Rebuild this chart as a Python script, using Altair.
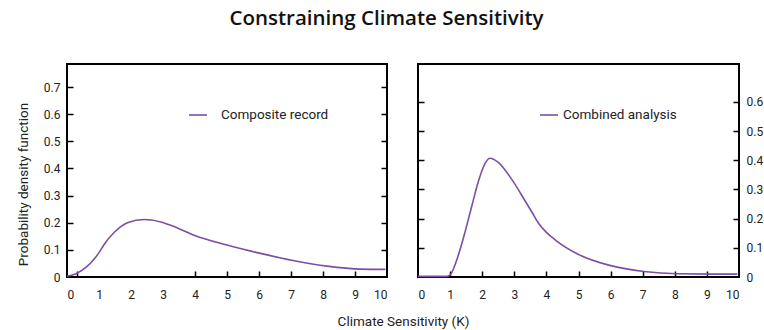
import altair as alt
import pandas as pd

# Composite record (left panel)
comp_x = [0.0, 0.3, 0.6, 0.85, 1.0, 1.16, 1.48, 1.89, 2.41, 2.93, 3.45, 3.97, 5.0, 6.05, 7.1, 8.13, 9.17, 9.95]
comp_y = [0.003, 0.013, 0.036, 0.066, 0.09, 0.12, 0.165, 0.2, 0.212, 0.203, 0.181, 0.154, 0.118, 0.087, 0.06, 0.04, 0.029, 0.028]

# Combined analysis (right panel)
comb_x = [0.0, 0.9, 1.0, 1.26, 1.47, 1.67, 1.88, 2.04, 2.24, 2.5, 2.9, 3.32, 3.55, 3.75, 4.0, 4.3, 4.97, 6.0, 7.04, 8.07, 9.1, 9.95]
comb_y = [0.002, 0.002, 0.007, 0.076, 0.156, 0.241, 0.327, 0.378, 0.407, 0.393, 0.338, 0.264, 0.222, 0.185, 0.153, 0.125, 0.079, 0.039, 0.019, 0.011, 0.01, 0.01]

left_yticks = [0, 0.1, 0.2, 0.3, 0.4, 0.5, 0.6, 0.7]
right_yticks = [0, 0.1, 0.2, 0.3, 0.4, 0.5, 0.6]
x_labels = [0, 1, 2, 3, 4, 5, 6, 7, 8, 9, 10]
left_xticks = [0.3, 4, 5, 6, 7, 8, 9]
right_xticks = [1, 2, 3, 4, 5, 6, 7, 8, 9]

title = "Constraining Climate Sensitivity"
ytitle = "Probability density function"
xtitle = "Climate Sensitivity (K)"

W_L, W_R, H = 320, 321, 213
PURPLE = "#7b4fa6"
FONT = "Roboto"

df_l = pd.DataFrame({"x": comp_x, "y": comp_y, "series": "Composite record"})
df_r = pd.DataFrame({"x": comb_x, "y": comb_y, "series": "Combined analysis"})


def tick_axis(orient, values, offset):
    return alt.Axis(orient=orient, values=values, offset=offset, labels=False, domain=False,
                    grid=False, ticks=True, tickSize=6, tickWidth=1.5, tickColor="black", title=None)


def panel(df, width, ymax, yvals, xticks, side, legend_offset):
    xs = alt.Scale(domain=[0, 10], nice=False, zero=False)
    ys = alt.Scale(domain=[0, ymax], nice=False, zero=False)
    if side == "left":
        yaxis = alt.Axis(orient="left", values=yvals, format=".1~f", ticks=False, domain=False, grid=False,
                         labelPadding=7, title=ytitle, titlePadding=13, titleFontSize=13.5,
                         titleFontWeight="normal", titleY=120)
        xaxis = alt.Axis(orient="bottom", values=x_labels, format="d", ticks=False, domain=False, grid=False,
                         labelPadding=12, title=xtitle, titleFontSize=13.5, titleFontWeight="normal",
                         titlePadding=14, titleX=336)
    else:
        yaxis = alt.Axis(orient="right", values=yvals, format=".1~f", ticks=False, domain=False, grid=False,
                         labelPadding=7, title=None)
        xaxis = alt.Axis(orient="bottom", values=x_labels, format="d", ticks=False, domain=False, grid=False,
                         labelPadding=12, title=None)
    main = alt.Chart(df).mark_line(strokeWidth=1.6, interpolate="monotone").encode(
        x=alt.X("x:Q", scale=xs, axis=xaxis),
        y=alt.Y("y:Q", scale=ys, axis=yaxis),
        color=alt.Color("series:N", scale=alt.Scale(range=[PURPLE]),
                        legend=alt.Legend(title=None, orient="none", legendX=121, legendY=41,
                                          symbolType="stroke", symbolSize=324, symbolStrokeWidth=1.6,
                                          labelFontSize=13.5, labelOffset=legend_offset, padding=0,
                                          labelFont=FONT, labelColor="#222")),
    )
    t1 = alt.Chart(df).mark_line(opacity=0).encode(
        x=alt.X("x:Q", scale=xs, axis=tick_axis("top", xticks, -H)),
        y=alt.Y("y:Q", scale=ys, axis=tick_axis("right", yvals[1:], -width)),
    )
    t2 = alt.Chart(df).mark_line(opacity=0).encode(
        x=alt.X("x:Q", scale=xs, axis=None),
        y=alt.Y("y:Q", scale=ys, axis=tick_axis("left", yvals[1:], -width)),
    )
    return alt.layer(main, t1, t2).resolve_axis(x="independent", y="independent").properties(
        width=width, height=H)


left = panel(df_l, W_L, 0.785, left_yticks, left_xticks, "left", 13)
right = panel(df_r, W_R, 0.73, right_yticks, right_xticks, "right", 4)

chart = alt.hconcat(left, right, spacing=31, bounds="flush").resolve_scale(color="independent").properties(
    title=alt.TitleParams(title, fontSize=20.5, font="Open Sans", fontWeight=600, anchor="middle", offset=34,
                          color="#111", dx=-3),
    padding={"left": 15, "top": 8, "right": 0, "bottom": 5},
).configure_view(stroke="black", strokeWidth=2).configure_axis(
    labelFont=FONT, labelFontSize=12, labelColor="#222", titleFont=FONT, titleColor="#222"
)

chart.save("out.html", embed_options={"renderer": "svg", "actions": False})
